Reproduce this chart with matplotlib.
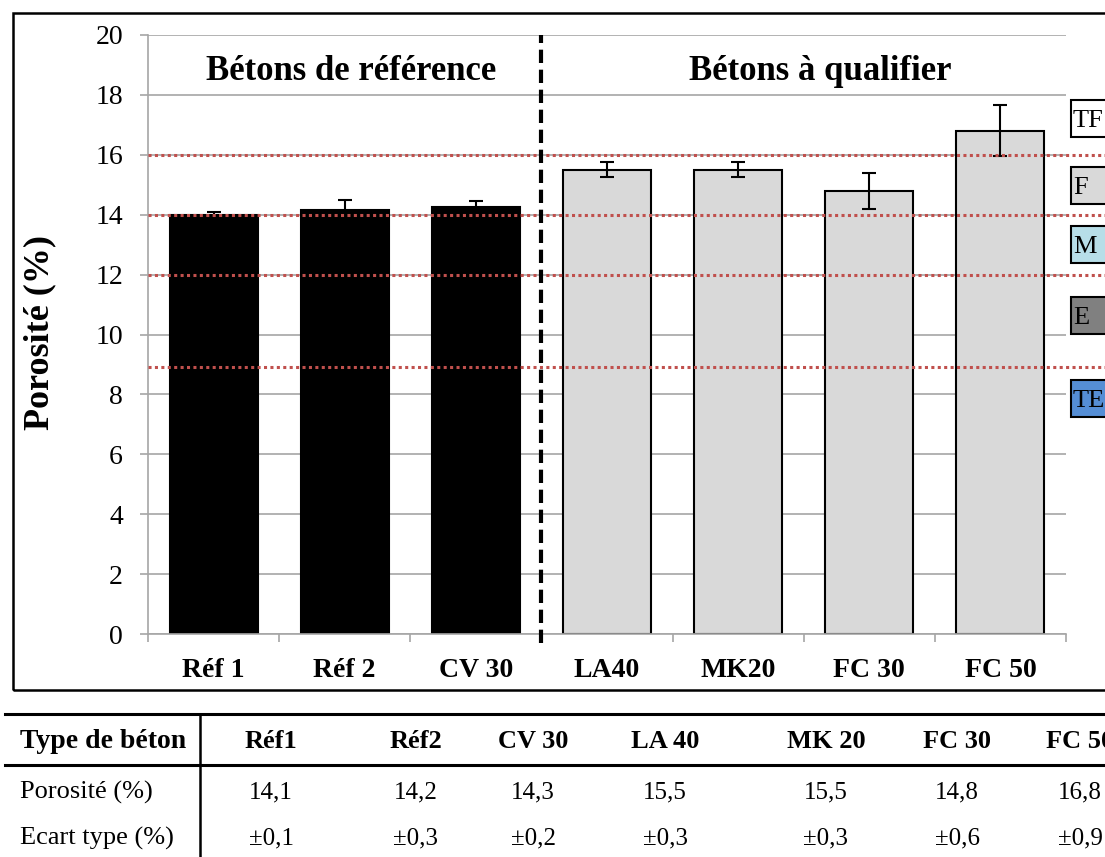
import matplotlib.pyplot as plt
from matplotlib.patches import Rectangle
from matplotlib.lines import Line2D

# Data
categories = ['Réf 1', 'Réf 2', 'CV 30', 'LA40', 'MK20', 'FC 30', 'FC 50']
porosity = [14.0, 14.15, 14.25, 15.5, 15.5, 14.8, 16.8]
errors = [0.1, 0.35, 0.2, 0.25, 0.25, 0.6, 0.85]
bar_colors = ['black', 'black', 'black', '#d9d9d9', '#d9d9d9', '#d9d9d9', '#d9d9d9']
class_limits = [16, 14, 12, 8.9]
class_labels = ['TF', 'F', 'M', 'E', 'TE']
class_colors = ['white', '#d9d9d9', '#b7dee8', '#808080', '#558ed5']

# Table below the chart
table_header = ['Réf1', 'Réf2', 'CV 30', 'LA 40', 'MK 20', 'FC 30', 'FC 50']
table_porosity = [14.1, 14.2, 14.3, 15.5, 15.5, 14.8, 16.8]
table_std = [0.1, 0.3, 0.2, 0.3, 0.3, 0.6, 0.9]

plt.rcParams['font.family'] = ['Liberation Serif', 'DejaVu Serif']

W, H = 1105, 857
fig = plt.figure(figsize=(W / 100, H / 100), dpi=100)


def fx(px):
    return px / W


def fy(py):
    return 1 - py / H


ax = fig.add_axes([fx(148), fy(634), fx(1066) - fx(148), fy(35) - fy(634)])

grid_gray = '#a6a6a6'
x = list(range(len(categories)))
ax.bar(x, porosity, width=0.67, color=bar_colors, edgecolor='black',
       linewidth=1.5, zorder=2)
ax.errorbar(x, porosity, yerr=errors, fmt='none', ecolor='black',
            elinewidth=1.5, capsize=5, capthick=1.5, zorder=3)

ax.set_xlim(-0.5, len(categories) - 0.5)
ax.set_ylim(0, 20)
ax.set_yticks(range(0, 21, 2))
ax.yaxis.grid(True, color=grid_gray, linewidth=1.2, zorder=0)
ax.set_axisbelow(True)

# red class limits, running past the axes into the legend area
for lim in class_limits:
    ax.plot([-0.5, 7.5], [lim, lim], color='#c0504d', linewidth=2.2,
            linestyle=(0, (1, 1.1)), zorder=4, clip_on=False)

# separator between the two groups
ax.plot([2.5, 2.5], [-0.3, 20], color='black', linewidth=3,
        linestyle=(0, (3.2, 1.6)), zorder=5, clip_on=False)

for side in ['top', 'right']:
    ax.spines[side].set_visible(False)
for side in ['left', 'bottom']:
    ax.spines[side].set_color(grid_gray)
    ax.spines[side].set_linewidth(1.2)

ax.tick_params(axis='y', direction='out', length=6, width=1.2, color=grid_gray,
               labelsize=20, pad=12)
ax.set_xticks(x)
ax.set_xticklabels(categories, fontweight='bold', fontsize=20)
ax.set_xticks([i + 0.5 for i in range(-1, len(categories))], minor=True)
ax.tick_params(axis='x', which='major', length=0, pad=17)
ax.tick_params(axis='x', which='minor', direction='out', length=6, width=1.2,
               color=grid_gray)

fig.text(fx(40), fy(332), 'Porosité (%)', rotation=90, ha='center',
         va='center', fontsize=26, fontweight='bold')

fig.text(fx(351), fy(72), 'Bétons de référence', ha='center', va='center',
         fontsize=25, fontweight='bold')
fig.text(fx(820), fy(72), 'Bétons à qualifier', ha='center', va='center',
         fontsize=25, fontweight='bold')

# class legend boxes on the right (cut by the image edge)
box_tops = [100, 167, 226, 297, 380]
for lab, col, top in zip(class_labels, class_colors, box_tops):
    fig.patches.append(Rectangle((fx(1071), fy(top + 37)), fx(60), 37 / H,
                                 transform=fig.transFigure, facecolor=col,
                                 edgecolor='black', linewidth=1.5))
    fig.text(fx(1073), fy(top + 21), lab, ha='left', va='center', fontsize=19)

# outer frame of the chart
fig.patches.append(Rectangle((fx(13), fy(690)), fx(1200), fy(13) - fy(690),
                             transform=fig.transFigure, facecolor='none',
                             edgecolor='black', linewidth=1.8))

# table
col_x = [271, 416, 533, 665, 826, 957, 1080]
fig.add_artist(Line2D([fx(5), 1], [fy(714), fy(714)], color='black', linewidth=2.2))
fig.add_artist(Line2D([fx(5), 1], [fy(765), fy(765)], color='black', linewidth=2.2))
fig.add_artist(Line2D([fx(200), fx(200)], [fy(714), 0], color='black', linewidth=1.8))

fig.text(fx(20), fy(742), 'Type de béton', ha='left', va='center',
         fontsize=20, fontweight='bold')
fig.text(fx(20), fy(792), 'Porosité (%)', ha='left', va='center', fontsize=19)
fig.text(fx(20), fy(838), 'Ecart type (%)', ha='left', va='center', fontsize=19)
for cx, name, p, s in zip(col_x, table_header, table_porosity, table_std):
    fig.text(fx(cx), fy(742), name, ha='center', va='center', fontsize=19,
             fontweight='bold')
    fig.text(fx(cx), fy(792), f'{p:.1f}'.replace('.', ','), ha='center',
             va='center', fontsize=18)
    fig.text(fx(cx), fy(838), '±' + f'{s:.1f}'.replace('.', ','), ha='center',
             va='center', fontsize=18)

fig.savefig('out.png', dpi=100)
